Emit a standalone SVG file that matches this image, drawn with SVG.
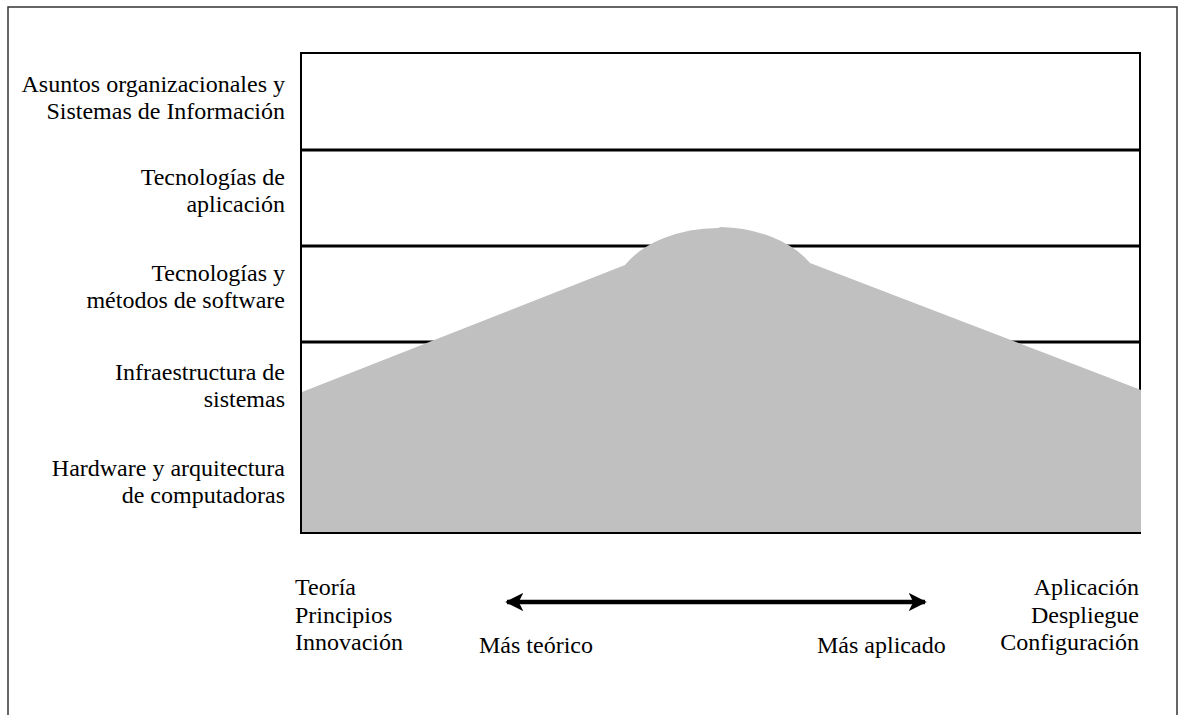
<svg xmlns="http://www.w3.org/2000/svg" width="1178" height="715" viewBox="0 0 1178 715">
<style>
  .lbl { font-family: "Liberation Serif", "Times New Roman", serif; font-size: 24px; fill: #000; }
  .end { text-anchor: end; }
  .div { stroke: #000; stroke-width: 3; }
</style>
<defs>
  <marker id="ah" viewBox="0 0 10 10" refX="9" refY="5" markerWidth="4" markerHeight="4.2" orient="auto-start-reverse" markerUnits="strokeWidth">
    <path d="M0,0 L10,5 L0,10 L2.5,5 Z" fill="#000"/>
  </marker>
</defs>
<rect x="0" y="0" width="1178" height="715" fill="#fff"/>
<rect x="8" y="7" width="1169" height="730" fill="none" stroke="#333" stroke-width="1.5"/>

<g id="chart">
  <rect x="301" y="53" width="839" height="480" fill="#fff" stroke="#000" stroke-width="2"/>
  <line class="div" x1="301" y1="150" x2="1140" y2="150"/>
  <line class="div" x1="301" y1="246" x2="1140" y2="246"/>
  <line class="div" x1="301" y1="342" x2="1140" y2="342"/>
  <path id="mountain" d="M302,392 L625,265 A107,71 0 0 1 718,228 L721,227 A107,71 0 0 1 810,263 L1141,390 L1141,532 L302,532 Z" fill="#c0c0c0"/>
  <line x1="301" y1="53" x2="301" y2="533" stroke="#000" stroke-width="2"/>
  <line x1="301" y1="533" x2="1140" y2="533" stroke="#000" stroke-width="2"/>
</g>

<g id="row-labels">
  <g id="label-org">
    <text class="lbl end" x="285" y="92">Asuntos organizacionales y</text>
    <text class="lbl end" x="285" y="119">Sistemas de Información</text>
  </g>
  <g id="label-app">
    <text class="lbl end" x="285" y="185">Tecnologías de</text>
    <text class="lbl end" x="285" y="212">aplicación</text>
  </g>
  <g id="label-sw">
    <text class="lbl end" x="285" y="281">Tecnologías y</text>
    <text class="lbl end" x="285" y="308">métodos de software</text>
  </g>
  <g id="label-infra">
    <text class="lbl end" x="285" y="380">Infraestructura de</text>
    <text class="lbl end" x="285" y="407">sistemas</text>
  </g>
  <g id="label-hw">
    <text class="lbl end" x="285" y="476">Hardware y arquitectura</text>
    <text class="lbl end" x="285" y="503">de computadoras</text>
  </g>
</g>

<g id="connectors">
  <line x1="507" y1="602" x2="925" y2="602" stroke="#000" stroke-width="4.5" marker-start="url(#ah)" marker-end="url(#ah)"/>
</g>

<g id="axis-left">
  <text class="lbl" x="295" y="595">Teoría</text>
  <text class="lbl" x="295" y="623">Principios</text>
  <text class="lbl" x="295" y="650">Innovación</text>
</g>
<g id="axis-right">
  <text class="lbl end" x="1139" y="595">Aplicación</text>
  <text class="lbl end" x="1139" y="623">Despliegue</text>
  <text class="lbl end" x="1139" y="650">Configuración</text>
</g>
<g id="axis-captions">
  <text class="lbl" x="479" y="653">Más teórico</text>
  <text class="lbl" x="817" y="653">Más aplicado</text>
</g>
</svg>
